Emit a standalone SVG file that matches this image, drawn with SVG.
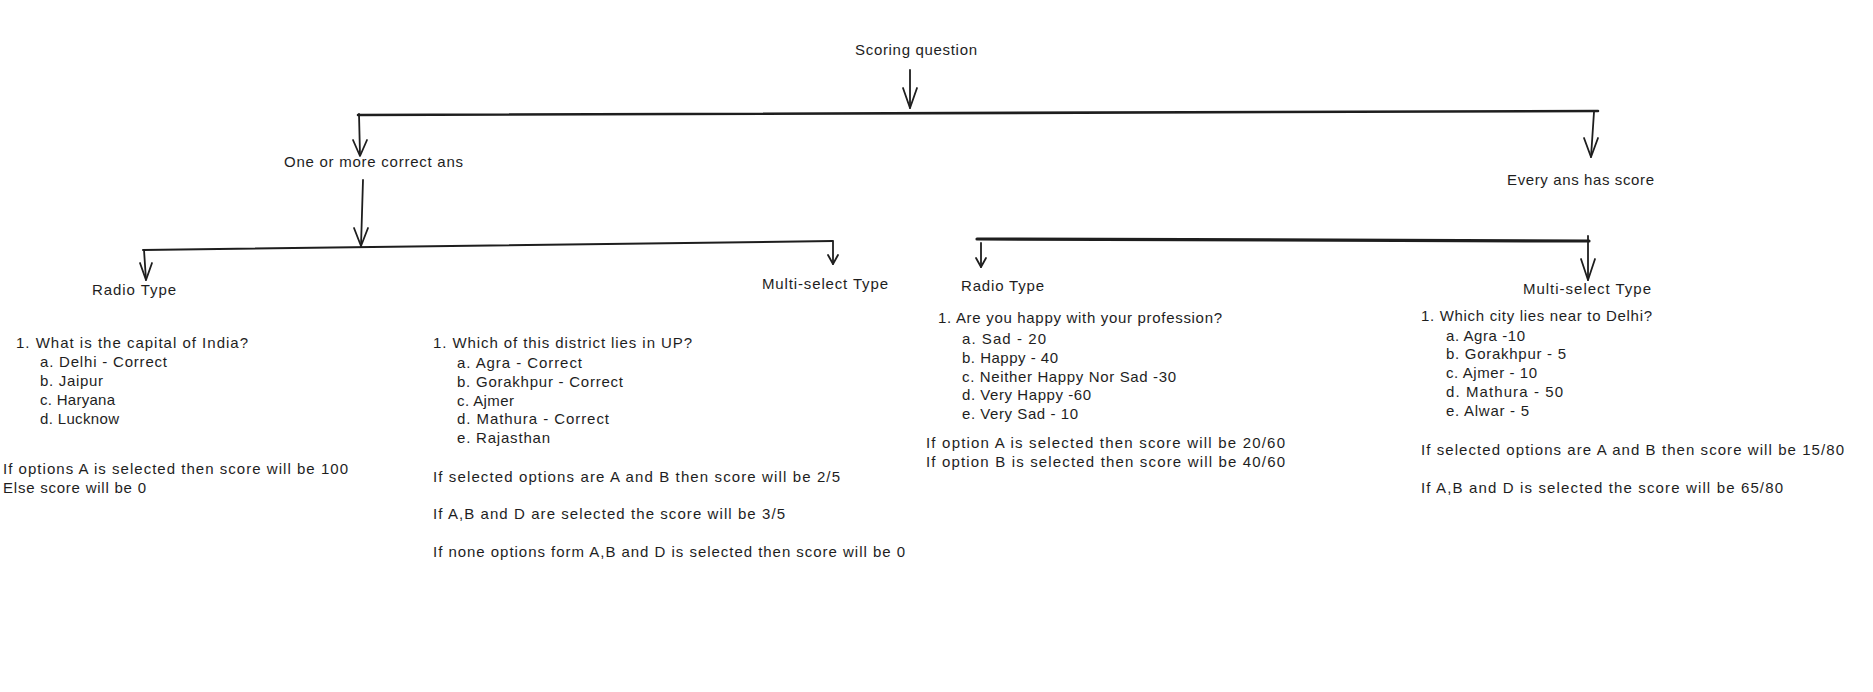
<svg xmlns="http://www.w3.org/2000/svg" width="1873" height="692" viewBox="0 0 1873 692">
  <style>
    text { font-family: "Liberation Sans", Arial, sans-serif; font-size: 15px; fill: #1e1e1e; }
    .ln { fill: none; stroke: #1e1e1e; stroke-linecap: round; stroke-linejoin: round; }
    .bar { stroke-width: 2.6; }
    .bar-thin { stroke-width: 2; }
    .bar-heavy { stroke-width: 3.2; }
    .shaft { stroke-width: 1.8; }
    .head { stroke-width: 1.8; }
  </style>
  <rect width="1873" height="692" fill="#ffffff"/>

  <!-- connectors: branch bars, drops and open arrowheads -->
  <g id="connectors">
    <!-- root drop -->
    <path class="ln shaft" d="M910 70 L910 108"/>
    <path class="ln head" d="M903 88 L910 108 L917 88"/>

    <!-- top branch bar -->
    <path class="ln bar" d="M358 115 L1598 111"/>

    <!-- drop to "One or more correct ans" -->
    <path class="ln shaft" d="M359 114 L360 155"/>
    <path class="ln head" d="M353 140 L360 156 L367 140"/>

    <!-- drop to "Every ans has score" -->
    <path class="ln shaft" d="M1594 112 L1591 157"/>
    <path class="ln head" d="M1584 138 L1591 157 L1598 138"/>

    <!-- drop from "One or more correct ans" to its branch bar -->
    <path class="ln shaft" d="M363 180 L361 246"/>
    <path class="ln head" d="M354 228 L361 246 L368 228"/>

    <!-- left branch bar -->
    <path class="ln bar-thin" d="M143 250 L833 241"/>
    <path class="ln shaft" d="M144 250 L146 280"/>
    <path class="ln head" d="M140 263 L146 280 L152 263"/>
    <path class="ln shaft" d="M833 242 L833 264"/>
    <path class="ln head" d="M828 255 L833 264 L838 255"/>

    <!-- right branch bar -->
    <path class="ln bar-heavy" d="M977 239 L1589 241"/>
    <path class="ln shaft" d="M981 243 L981 267"/>
    <path class="ln head" d="M976 258 L981 267 L986 258"/>
    <path class="ln shaft" d="M1588 236 L1588 280"/>
    <path class="ln head" d="M1581 259 L1588 280 L1595 259"/>
  </g>

  <g id="scoring-question">
    <text x="855" y="55" textLength="122">Scoring question</text>
  </g>

  <g id="one-or-more-correct">
    <text x="284" y="167" textLength="179">One or more correct ans</text>
  </g>

  <g id="every-ans-has-score">
    <text x="1507" y="185" textLength="147">Every ans has score</text>
  </g>

  <g id="radio-type-correct">
    <text x="92" y="295" textLength="84">Radio Type</text>
    <text x="16" y="348" textLength="232">1. What is the capital of India?</text>
    <text x="40" y="367" textLength="127">a. Delhi - Correct</text>
    <text x="40" y="386" textLength="63">b. Jaipur</text>
    <text x="40" y="405" textLength="75">c. Haryana</text>
    <text x="40" y="424" textLength="79">d. Lucknow</text>
    <text x="3" y="474" textLength="345">If options A is selected then score will be 100</text>
    <text x="3" y="493" textLength="143">Else score will be 0</text>
  </g>

  <g id="multi-select-correct">
    <text x="762" y="289" textLength="126">Multi-select Type</text>
    <text x="433" y="348" textLength="259">1. Which of this district lies in UP?</text>
    <text x="457" y="368" textLength="125">a. Agra - Correct</text>
    <text x="457" y="387" textLength="166">b. Gorakhpur - Correct</text>
    <text x="457" y="406" textLength="57">c. Ajmer</text>
    <text x="457" y="424" textLength="152">d. Mathura - Correct</text>
    <text x="457" y="443" textLength="93">e. Rajasthan</text>
    <text x="433" y="482" textLength="407">If selected options are A and B then score will be 2/5</text>
    <text x="433" y="519" textLength="352">If A,B and D are selected the score will be 3/5</text>
    <text x="433" y="557" textLength="472">If none options form A,B and D is selected then score will be 0</text>
  </g>

  <g id="radio-type-scored">
    <text x="961" y="291" textLength="83">Radio Type</text>
    <text x="938" y="323" textLength="284">1. Are you happy with your profession?</text>
    <text x="962" y="344" textLength="84">a. Sad - 20</text>
    <text x="962" y="363" textLength="96">b. Happy - 40</text>
    <text x="962" y="382" textLength="214">c. Neither Happy Nor Sad -30</text>
    <text x="962" y="400" textLength="129">d. Very Happy -60</text>
    <text x="962" y="419" textLength="116">e. Very Sad - 10</text>
    <text x="926" y="448" textLength="359">If option A is selected then score will be 20/60</text>
    <text x="926" y="467" textLength="359">If option B is selected then score will be 40/60</text>
  </g>

  <g id="multi-select-scored">
    <text x="1523" y="294" textLength="128">Multi-select Type</text>
    <text x="1421" y="321" textLength="231">1. Which city lies near to Delhi?</text>
    <text x="1446" y="341" textLength="79">a. Agra -10</text>
    <text x="1446" y="359" textLength="120">b. Gorakhpur - 5</text>
    <text x="1446" y="378" textLength="91">c. Ajmer - 10</text>
    <text x="1446" y="397" textLength="117">d. Mathura - 50</text>
    <text x="1446" y="416" textLength="83">e. Alwar - 5</text>
    <text x="1421" y="455" textLength="423">If selected options are A and B then score will be 15/80</text>
    <text x="1421" y="493" textLength="362">If A,B and D is selected the score will be 65/80</text>
  </g>
</svg>
